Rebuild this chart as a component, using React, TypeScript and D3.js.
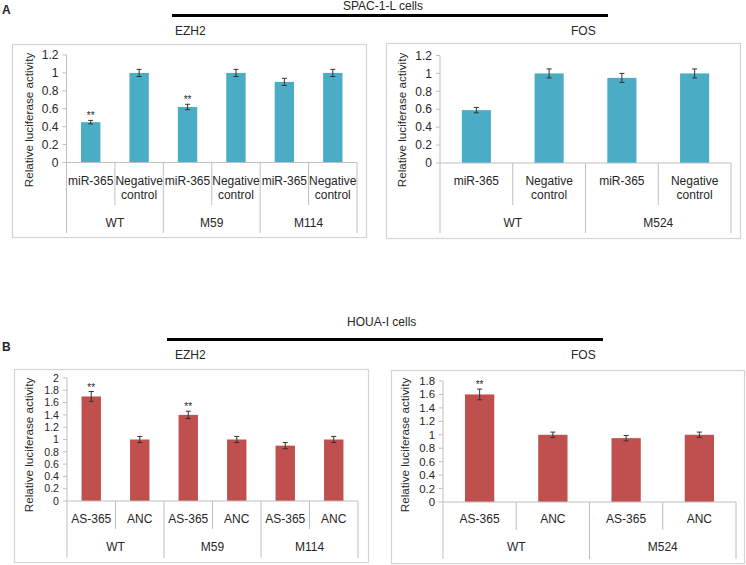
import React from "react";
import * as d3 from "d3";

// ---------- DATA ----------
const aEzh2Categories = [["miR-365"], ["Negative", "control"], ["miR-365"], ["Negative", "control"], ["miR-365"], ["Negative", "control"]];
const aEzh2Groups = ["WT", "M59", "M114"];
const aEzh2Values = [0.45, 1.0, 0.62, 1.0, 0.9, 1.0];
const aEzh2Errors = [0.02, 0.04, 0.03, 0.04, 0.04, 0.04];
const aEzh2Stars = [true, false, true, false, false, false];

const aFosCategories = [["miR-365"], ["Negative", "control"], ["miR-365"], ["Negative", "control"]];
const aFosGroups = ["WT", "M524"];
const aFosValues = [0.59, 1.0, 0.95, 1.0];
const aFosErrors = [0.03, 0.05, 0.05, 0.05];
const aFosStars = [false, false, false, false];

const bEzh2Categories = [["AS-365"], ["ANC"], ["AS-365"], ["ANC"], ["AS-365"], ["ANC"]];
const bEzh2Groups = ["WT", "M59", "M114"];
const bEzh2Values = [1.7, 1.0, 1.4, 1.0, 0.9, 1.0];
const bEzh2Errors = [0.08, 0.05, 0.06, 0.05, 0.05, 0.05];
const bEzh2Stars = [true, false, true, false, false, false];

const bFosCategories = [["AS-365"], ["ANC"], ["AS-365"], ["ANC"]];
const bFosGroups = ["WT", "M524"];
const bFosValues = [1.6, 1.0, 0.95, 1.0];
const bFosErrors = [0.08, 0.04, 0.04, 0.04];
const bFosStars = [true, false, false, false];

const aTicks = [0, 0.2, 0.4, 0.6, 0.8, 1, 1.2];
const bEzh2Ticks = [0, 0.2, 0.4, 0.6, 0.8, 1, 1.2, 1.4, 1.6, 1.8, 2];
const bFosTicks = [0, 0.2, 0.4, 0.6, 0.8, 1, 1.2, 1.4, 1.6, 1.8];

const yLabel = "Relative luciferase activity";
const FONT = "'Liberation Sans', Arial, sans-serif";
const TEXT = "#262626";
const AXIS = "#BFBFBF";
const FRAME = "#D4D4D4";
const FS = 12;

type PanelProps = {
  frame: [number, number, number, number];
  axisX: number;
  catRight: number;
  yRange: [number, number];
  yMax: number;
  ticks: number[];
  tickFs: number;
  categories: string[][];
  groups: string[];
  values: number[];
  errors: number[];
  stars: boolean[];
  color: string;
  labelY: number;
  groupY: number;
  innerBottom: number;
  groupBottom: number;
  yLabelX: number;
  yLabelY: number;
  title: string;
  titleX: number;
  titleY: number;
};

function Panel(p: PanelProps) {
  const [fx0, fy0, fx1, fy1] = p.frame;
  const y = d3.scaleLinear().domain([0, p.yMax]).range(p.yRange);
  const x = d3
    .scaleBand<number>()
    .domain(d3.range(p.categories.length))
    .range([p.axisX, p.catRight])
    .paddingInner(0)
    .paddingOuter(0);
  const bw = x.bandwidth() * 0.4;
  const perGroup = p.categories.length / p.groups.length;
  const y0 = y(0);
  const fmt = (t: number) => String(+t.toFixed(1));
  return (
    <g fontFamily={FONT} fill={TEXT}>
      <rect x={fx0 + 0.5} y={fy0 + 0.5} width={fx1 - fx0} height={fy1 - fy0} fill="#fff" stroke={FRAME} strokeWidth={1.2} />
      <text x={p.titleX} y={p.titleY} fontSize={FS}>{p.title}</text>
      {/* y axis */}
      <line x1={p.axisX} x2={p.axisX} y1={y(p.yMax)} y2={y0} stroke={AXIS} />
      {p.ticks.map((t) => (
        <g key={t}>
          <line x1={p.axisX - 4} x2={p.axisX} y1={y(t)} y2={y(t)} stroke={AXIS} />
          <text x={p.axisX - 8} y={y(t)} dy="0.35em" textAnchor="end" fontSize={p.tickFs}>{fmt(t)}</text>
        </g>
      ))}
      <text
        transform={`translate(${p.yLabelX},${p.yLabelY}) rotate(-90)`}
        textAnchor="middle"
        fontSize={11.7}
      >
        {yLabel}
      </text>
      {/* bars */}
      {p.values.map((v, i) => {
        const cx = (x(i) as number) + x.bandwidth() / 2;
        const e = p.errors[i];
        return (
          <g key={i}>
            <rect x={cx - bw / 2} y={y(v)} width={bw} height={y0 - y(v)} fill={p.color} />
            <line x1={cx} x2={cx} y1={y(v + e)} y2={y(v - e)} stroke="#333" strokeWidth={1} />
            <line x1={cx - 2.5} x2={cx + 2.5} y1={y(v + e)} y2={y(v + e)} stroke="#333" strokeWidth={1} />
            <line x1={cx - 2.5} x2={cx + 2.5} y1={y(v - e)} y2={y(v - e)} stroke="#333" strokeWidth={1} />
            {p.stars[i] && (
              <text x={cx} y={y(v + e) - 1} textAnchor="middle" fontSize={10}>**</text>
            )}
          </g>
        );
      })}
      {/* x axis */}
      <line x1={p.axisX} x2={p.catRight} y1={y0} y2={y0} stroke={AXIS} />
      {p.categories.map((c, i) => {
        const left = x(i) as number;
        const right = left + x.bandwidth();
        const isGroupEnd = (i + 1) % perGroup === 0;
        return (
          <g key={"c" + i}>
            {i === 0 && <line x1={left} x2={left} y1={y0} y2={p.groupBottom} stroke={AXIS} />}
            <line x1={right} x2={right} y1={y0} y2={isGroupEnd ? p.groupBottom : p.innerBottom} stroke={AXIS} />
            {c.map((line, k) => (
              <text key={k} x={(left + right) / 2} y={p.labelY + k * 13.5} textAnchor="middle" fontSize={FS}>{line}</text>
            ))}
          </g>
        );
      })}
      {p.groups.map((g, gi) => {
        const left = x(gi * perGroup) as number;
        const right = (x((gi + 1) * perGroup - 1) as number) + x.bandwidth();
        return (
          <text key={g} x={(left + right) / 2} y={p.groupY} textAnchor="middle" fontSize={FS}>{g}</text>
        );
      })}
    </g>
  );
}

export default function App() {
  const teal = "#4BACC6";
  const red = "#C0504D";
  return (
    <svg width={746} height={565} style={{ position: "absolute", left: 0, top: 0, background: "#fff" }}>
      <g fontFamily={FONT} fill={TEXT}>
        <text x={2} y={14} fontSize={12} fontWeight="bold">A</text>
        <text x={343} y={10} fontSize={FS}>SPAC-1-L cells</text>
        <line x1={172} x2={608} y1={15.5} y2={15.5} stroke="#000" strokeWidth={3} />
        <text x={2} y={351} fontSize={12} fontWeight="bold">B</text>
        <text x={347} y={326} fontSize={FS}>HOUA-I cells</text>
        <line x1={167} x2={603} y1={339.5} y2={339.5} stroke="#000" strokeWidth={3} />
      </g>
      <Panel
        frame={[12, 44, 366, 237]}
        axisX={66.5}
        catRight={357}
        yRange={[162.5, 55]}
        yMax={1.2}
        ticks={aTicks}
        tickFs={12}
        categories={aEzh2Categories}
        groups={aEzh2Groups}
        values={aEzh2Values}
        errors={aEzh2Errors}
        stars={aEzh2Stars}
        color={teal}
        labelY={185}
        groupY={227}
        innerBottom={205}
        groupBottom={233}
        yLabelX={33}
        yLabelY={120}
        title="EZH2"
        titleX={175}
        titleY={35}
      />
      <Panel
        frame={[386, 43, 740, 238]}
        axisX={440}
        catRight={731}
        yRange={[163, 55.5]}
        yMax={1.2}
        ticks={aTicks}
        tickFs={12}
        categories={aFosCategories}
        groups={aFosGroups}
        values={aFosValues}
        errors={aFosErrors}
        stars={aFosStars}
        color={teal}
        labelY={185}
        groupY={227}
        innerBottom={205}
        groupBottom={233}
        yLabelX={406}
        yLabelY={120}
        title="FOS"
        titleX={571}
        titleY={35}
      />
      <Panel
        frame={[14, 369, 368, 562]}
        axisX={67}
        catRight={358}
        yRange={[501, 378]}
        yMax={2}
        ticks={bEzh2Ticks}
        tickFs={10.6}
        categories={bEzh2Categories}
        groups={bEzh2Groups}
        values={bEzh2Values}
        errors={bEzh2Errors}
        stars={bEzh2Stars}
        color={red}
        labelY={523}
        groupY={551}
        innerBottom={529}
        groupBottom={558}
        yLabelX={33}
        yLabelY={445}
        title="EZH2"
        titleX={175}
        titleY={359}
      />
      <Panel
        frame={[391, 370, 744, 563]}
        axisX={443}
        catRight={736}
        yRange={[502, 381]}
        yMax={1.8}
        ticks={bFosTicks}
        tickFs={11.4}
        categories={bFosCategories}
        groups={bFosGroups}
        values={bFosValues}
        errors={bFosErrors}
        stars={bFosStars}
        color={red}
        labelY={523}
        groupY={551}
        innerBottom={530}
        groupBottom={559}
        yLabelX={409}
        yLabelY={445}
        title="FOS"
        titleX={571}
        titleY={359}
      />
    </svg>
  );
}
